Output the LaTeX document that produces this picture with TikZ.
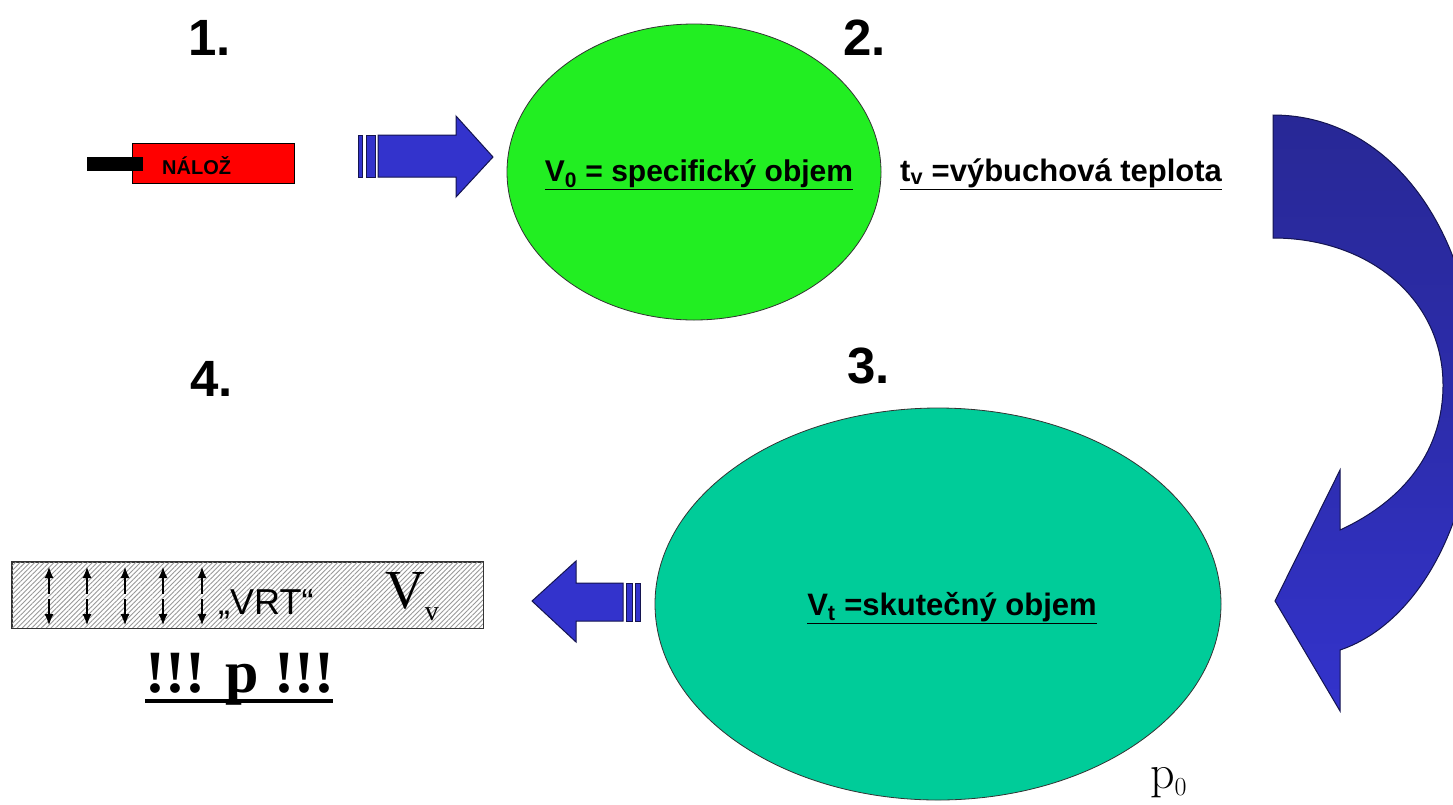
\documentclass[tikz,border=0pt]{standalone}
\usepackage{fontspec}
\newfontfamily\arialf{Liberation Sans}
\newfontfamily\tnrf{Liberation Serif}
\usetikzlibrary{shapes.geometric,patterns.meta,arrows.meta}
\definecolor{bluefill}{RGB}{51,51,204}
\definecolor{bluedark}{RGB}{40,40,150}
\definecolor{blueline}{RGB}{20,20,80}
\definecolor{greenfill}{RGB}{34,238,34}
\definecolor{tealfill}{RGB}{0,204,153}
\definecolor{redfill}{RGB}{255,0,0}
\begin{document}
\begin{tikzpicture}[x=1pt,y=-1pt,
  num/.style={font=\arialf\bfseries\fontsize{51}{51}\selectfont, inner sep=0pt, anchor=base west},
  lbl/.style={font=\arialf\bfseries\fontsize{31}{33}\selectfont, inner sep=0pt},
  blockarrow/.style={fill=bluefill, draw=blueline, line width=1pt, line join=miter},
  vrt/.style={{Latex[length=11pt,width=9pt]}-, line width=1.1pt},
  blob/.style={ellipse, draw=black!80, line width=0.8pt, inner sep=0pt}
]
\useasboundingbox (0,0) rectangle (1453,804);

% step numbers
\node[num] (n1) at (188,55) {1.};
\node[num] (n2) at (843,55) {2.};
\node[num] (n3) at (847,383) {3.};
\node[num] (n4) at (190,396) {4.};

% charge
\node[draw=black, line width=0.8pt, fill=redfill, minimum width=162pt, minimum height=40pt, inner sep=0pt] (charge) at (213,163) {};
\fill[black] (87,157) rectangle (143,171);
\node[font=\arialf\bfseries\fontsize{20}{20}\selectfont, inner sep=0pt, anchor=base west] (chargetxt) at (162,174) {NÁLOŽ};

% right block arrow
\draw[blockarrow] (358,135) rectangle (362,177);
\draw[blockarrow] (366,135) rectangle (375,177);
\draw[blockarrow] (378,135) -- (456,135) -- (456,116) -- (493,157) -- (456,197) -- (456,177) -- (378,177) -- cycle;

% green ellipse
\node[blob, fill=greenfill, minimum width=374pt, minimum height=296pt] (e2) at (694,172) {};
\node[lbl, anchor=base, font=\arialf\bfseries\fontsize{30}{32}\selectfont] (v0) at (699,181) {\underline{V\textsubscript{0} = specifický objem}};
\node[lbl, anchor=base west] (tv) at (900,181) {\underline{t\textsubscript{v} =výbuchová teplota}};

% curved arrow
\begin{scope}
\clip (0,0) rectangle (1453,804);
\shade[top color=bluedark, bottom color=bluefill, middle color=bluedark!60!bluefill]
  (1273,115) .. controls (1395,115) and (1476,240) .. (1476,385)
  .. controls (1476,525) and (1415,625) .. (1340,650)
  -- (1340,711) -- (1275,601) -- (1340,470) -- (1340,530)
  .. controls (1405,500) and (1443,450) .. (1443,385)
  .. controls (1443,300) and (1370,238) .. (1273,238) -- cycle;
\draw[blueline, line width=1pt, line join=miter]
  (1273,115) .. controls (1395,115) and (1476,240) .. (1476,385)
  .. controls (1476,525) and (1415,625) .. (1340,650)
  -- (1340,711) -- (1275,601) -- (1340,470) -- (1340,530)
  .. controls (1405,500) and (1443,450) .. (1443,385)
  .. controls (1443,300) and (1370,238) .. (1273,238) -- cycle;
\end{scope}

% teal ellipse
\node[blob, fill=tealfill, minimum width=566pt, minimum height=392pt] (e3) at (938,604) {};
\node[lbl, anchor=base] (vt) at (952,615) {\underline{V\textsubscript{t} =skutečný objem}};
\node[inner sep=0pt, anchor=base west] (p0) at (1150,788) {\fontsize{48}{48}\selectfont p\raisebox{-7pt}{\fontsize{26}{26}\selectfont 0}};

% left block arrow
\draw[blockarrow] (635,583) rectangle (640,621);
\draw[blockarrow] (626,583) rectangle (632,621);
\draw[blockarrow] (623,583) -- (576,583) -- (576,561) -- (532,601) -- (576,642) -- (576,621) -- (623,621) -- cycle;

% hatched bar
\node[draw=black!80, line width=0.8pt, fill=white, minimum width=471pt, minimum height=66pt, inner sep=0pt] (bar) at (247.5,595) {};
\fill[pattern={Lines[angle=45,distance=3.4pt,line width=0.9pt]}, pattern color=black!40]
  (bar.south west) rectangle (bar.north east);
\draw[black!80, line width=0.8pt] (bar.south west) rectangle (bar.north east);
\foreach \i/\xx in {1/49,2/87,3/125,4/163,5/202}{
  \coordinate (u\i) at (\xx,567);
  \coordinate (d\i) at (\xx,625);
  \coordinate (mu\i) at (\xx,594);
  \coordinate (md\i) at (\xx,599);
  \draw[vrt] (u\i) -- (mu\i);
  \draw[vrt] (d\i) -- (md\i);
}
\node[font=\arialf\fontsize{36}{36}\selectfont, inner sep=0pt, anchor=base west] (vrttxt) at (218,614) {„VRT“};
\node[font=\tnrf, inner sep=0pt, anchor=base west] (vv) at (385,608) {\fontsize{55}{55}\selectfont V\raisebox{-12pt}{\fontsize{28}{28}\selectfont v}};

% pressure
\node[font=\tnrf\bfseries\fontsize{60}{60}\selectfont, inner sep=0pt, anchor=base] (press) at (240,692) {!!! p !!!};
\coordinate (ulA) at (145,701);
\coordinate (ulB) at (333,701);
\draw[line width=4pt] (ulA) -- (ulB);
\end{tikzpicture}
\end{document}
